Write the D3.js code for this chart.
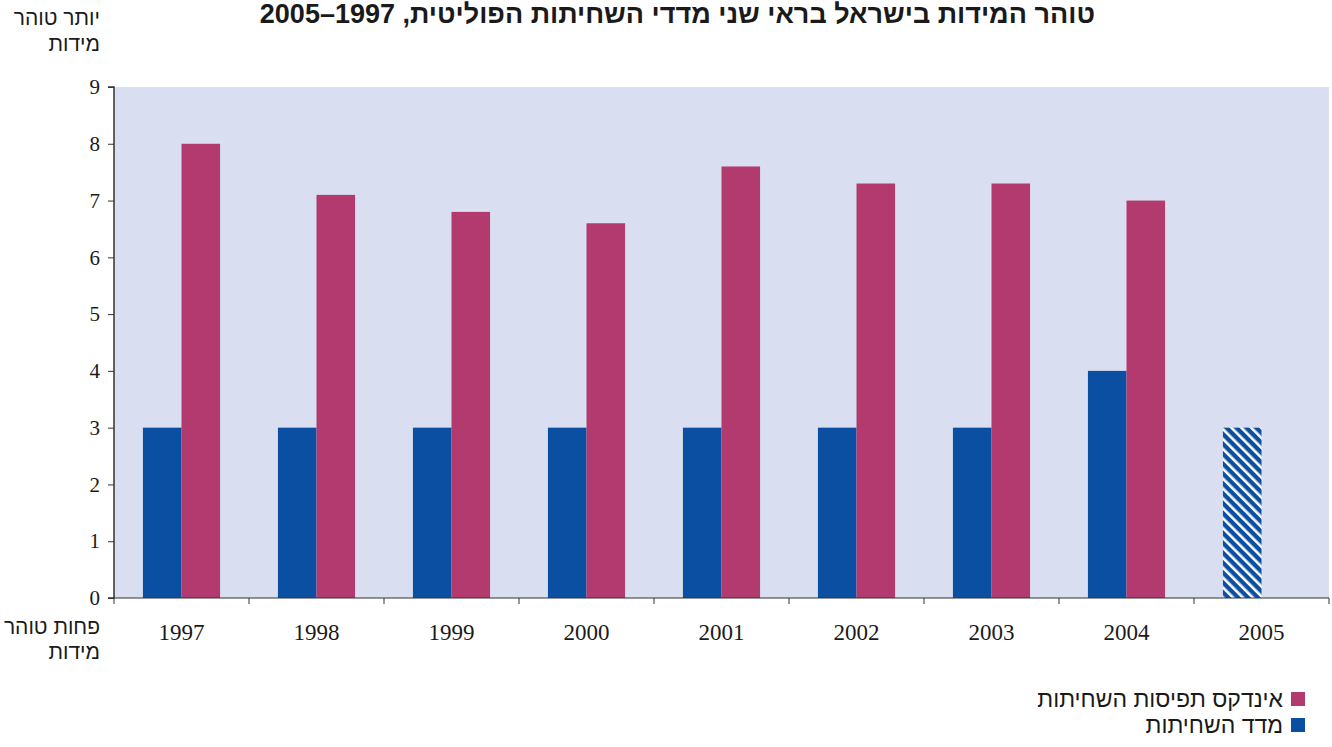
<!DOCTYPE html>
<html>
<head>
<meta charset="utf-8">
<script src="https://cdn.jsdelivr.net/npm/d3@7"></script>
<style>
  body { margin: 0; background: #fff; }
  svg text { fill: #1a1a1a; }
  .axis text { font-family: "Liberation Serif", "DejaVu Serif", serif; font-size: 21px; }
  .axis .xlab { font-size: 23px; }
  .axis path, .axis line { stroke: #333; }
  .heb { font-family: "Liberation Sans", "DejaVu Sans", sans-serif; font-size: 21px; direction: rtl; }
  .leg text { font-size: 23px; }
  .title { font-family: "Liberation Sans", Arial, sans-serif; font-size: 27px; font-weight: bold; direction: rtl; }
</style>
</head>
<body>
<div id="chart"></div>
<script>
let years = ["1997", "1998", "1999", "2000", "2001", "2002", "2003", "2004", "2005"];
let corruptionIndex = [3, 3, 3, 3, 3, 3, 3, 4, 3];          // מדד השחיתות (2005 estimated - hatched)
let perceptionIndex = [8.0, 7.1, 6.8, 6.6, 7.6, 7.3, 7.3, 7.0, null]; // אינדקס תפיסות השחיתות
let yTicks = [0, 1, 2, 3, 4, 5, 6, 7, 8, 9];

let w = 1332, h = 747;
let plotLeft = 114, plotRight = 1329, plotTop = 87, plotBottom = 598;

let svg = d3.select("#chart").append("svg")
    .attr("width", w)
    .attr("height", h);

let defs = svg.append("defs");
let pat = defs.append("pattern")
    .attr("id", "hatch")
    .attr("patternUnits", "userSpaceOnUse")
    .attr("width", 7)
    .attr("height", 7)
    .attr("patternTransform", "rotate(-45)");
pat.append("rect").attr("width", 7).attr("height", 7).attr("fill", "#0b4fa3");
pat.append("rect").attr("x", 0).attr("width", 2.6).attr("height", 7).attr("fill", "#ffffff");

let x = d3.scaleBand().domain(years).range([plotLeft, plotRight]);
let x1 = d3.scaleBand().domain(["c", "p"]).range([0, x.bandwidth()]).paddingOuter(0.75).paddingInner(0);
let y = d3.scaleLinear().domain([0, 9]).range([plotBottom, plotTop]);

svg.append("rect")
    .attr("x", plotLeft).attr("y", plotTop)
    .attr("width", plotRight - plotLeft).attr("height", plotBottom - plotTop)
    .attr("fill", "#d9dff0");

// bars
svg.selectAll(".bar-c")
    .data(years)
    .enter()
    .append("rect")
    .attr("x", function (d) { return x(d) + x1("c"); })
    .attr("y", function (d, i) { return y(corruptionIndex[i]); })
    .attr("width", x1.bandwidth())
    .attr("height", function (d, i) { return plotBottom - y(corruptionIndex[i]); })
    .attr("fill", function (d) { return d === "2005" ? "url(#hatch)" : "#0b4fa3"; });

svg.selectAll(".bar-p")
    .data(years.filter(function (d, i) { return perceptionIndex[i] != null; }))
    .enter()
    .append("rect")
    .attr("x", function (d) { return x(d) + x1("p"); })
    .attr("y", function (d) { return y(perceptionIndex[years.indexOf(d)]); })
    .attr("width", x1.bandwidth())
    .attr("height", function (d) { return plotBottom - y(perceptionIndex[years.indexOf(d)]); })
    .attr("fill", "#b23a6f");

// y axis
let yAxis = d3.axisLeft(y).tickValues(yTicks).tickSize(6).tickPadding(8);
let gy = svg.append("g").attr("class", "axis")
    .attr("transform", "translate(" + plotLeft + ",0)")
    .call(yAxis);
gy.select(".domain").attr("d", "M-6," + plotTop + "H0V" + plotBottom + "H-6").attr("stroke-width", 1.5);

// x axis with ticks at band boundaries
let gx = svg.append("g").attr("class", "axis")
    .attr("transform", "translate(0," + plotBottom + ")");
gx.append("line").attr("x1", plotLeft).attr("x2", plotRight).attr("stroke", "#333").attr("stroke-width", 1.2);
gx.selectAll(".bound")
    .data(years.concat(["end"]))
    .enter()
    .append("line")
    .attr("x1", function (d, i) { return plotLeft + i * x.step(); })
    .attr("x2", function (d, i) { return plotLeft + i * x.step(); })
    .attr("y1", 0).attr("y2", 6)
    .attr("stroke", "#333");
gx.selectAll(".lab")
    .data(years)
    .enter()
    .append("text")
    .attr("class", "xlab")
    .attr("x", function (d) { return x(d) + x.bandwidth() / 2; })
    .attr("y", 42)
    .attr("text-anchor", "middle")
    .text(function (d) { return d; });

// title
svg.append("text")
    .attr("class", "title")
    .attr("x", 1095).attr("y", 23)
    .attr("text-anchor", "start")
    .text("טוהר המידות בישראל בראי שני מדדי השחיתות הפוליטית, 1997–2005");

// y-axis side notes
let notes = [
    { t: "יותר טוהר", y: 25 },
    { t: "מידות", y: 51 },
    { t: "פחות טוהר", y: 634 },
    { t: "מידות", y: 659 }
];
svg.selectAll(".note")
    .data(notes)
    .enter()
    .append("text")
    .attr("class", "heb")
    .attr("x", 100)
    .attr("y", function (d) { return d.y; })
    .attr("text-anchor", "start")
    .text(function (d) { return d.t; });

// legend
let legend = [
    { t: "אינדקס תפיסות השחיתות", c: "#b23a6f", y: 692 },
    { t: "מדד השחיתות", c: "#0b4fa3", y: 718 }
];
let lg = svg.selectAll(".leg").data(legend).enter().append("g").attr("class", "leg");
lg.append("rect")
    .attr("x", 1291).attr("y", function (d) { return d.y; })
    .attr("width", 14).attr("height", 14)
    .attr("fill", function (d) { return d.c; });
lg.append("text")
    .attr("class", "heb")
    .attr("x", 1283).attr("y", function (d) { return d.y + 15; })
    .attr("text-anchor", "start")
    .text(function (d) { return d.t; });
</script>
</body>
</html>
